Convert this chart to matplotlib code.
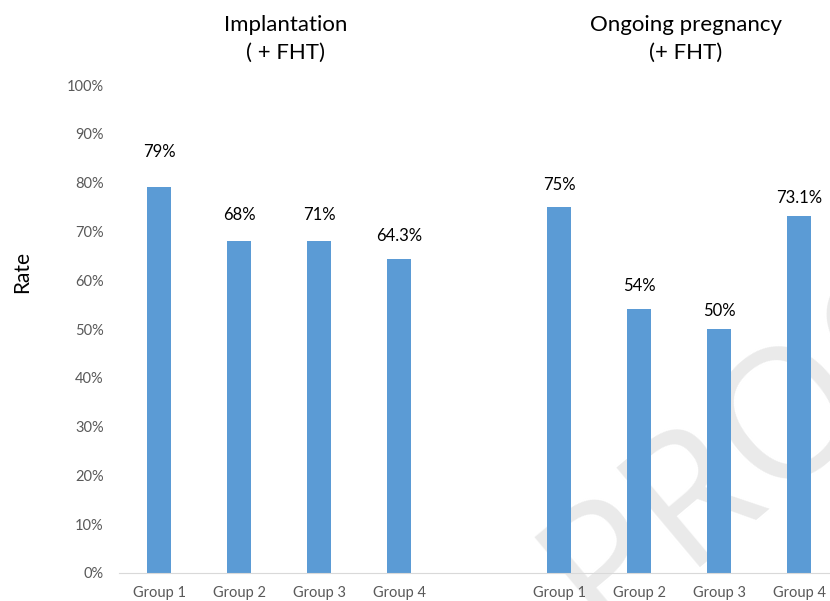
import matplotlib.pyplot as plt
from matplotlib.ticker import PercentFormatter

plt.rcParams['font.family'] = ['Lato', 'DejaVu Sans']

groups = ["Group 1", "Group 2", "Group 3", "Group 4"]
panel_titles = ["Implantation\n( + FHT)", "Ongoing pregnancy\n(+ FHT)"]
# bar heights as drawn (%)
implantation = [79, 68, 68, 64.3]
ongoing = [75, 54, 50, 73.1]
# data labels as printed on the chart
implantation_labels = ["79%", "68%", "71%", "64.3%"]
ongoing_labels = ["75%", "54%", "50%", "73.1%"]

bar_color = "#5B9BD5"
W, H = 830, 601
fig = plt.figure(figsize=(W / 100, H / 100), dpi=100)

# axes spans slots -0.5 .. 8.5, runs a little past the right edge like the original crop
ax = fig.add_axes([119 / W, (H - 573) / H, 720 / W, (573 - 85) / H])

x1 = list(range(4))
x2 = [i + 5 for i in range(4)]
ax.bar(x1, implantation, width=0.31, color=bar_color, zorder=2)
ax.bar(x2, ongoing, width=0.31, color=bar_color, zorder=2)

# label offsets (in %), Excel placed them a bit unevenly
off1 = [7.3, 5.3, 5.3, 4.7]
off2 = [4.5, 4.9, 3.7, 3.7]
for xs, vals, labs, offs in [(x1, implantation, implantation_labels, off1),
                             (x2, ongoing, ongoing_labels, off2)]:
    for x, v, lab, o in zip(xs, vals, labs, offs):
        ax.text(x, v + o, lab, ha="center", va="center", fontsize=12,
                color="black", zorder=3)

ax.set_xlim(-0.5, 8.5)
ax.set_ylim(0, 100)
ax.set_yticks(range(0, 101, 10))
ax.yaxis.set_major_formatter(PercentFormatter(decimals=0))
ax.set_xticks(x1 + x2)
ax.set_xticklabels(groups + groups)
ax.tick_params(axis="both", length=0, labelsize=10.5, colors="#595959")
ax.tick_params(axis="x", pad=9)
ax.tick_params(axis="y", pad=11)
for s in ["top", "right", "left"]:
    ax.spines[s].set_visible(False)
ax.spines["bottom"].set_color("#D9D9D9")
ax.set_facecolor("none")

fig.text(22 / W, (H - 272) / H, "Rate", rotation=90, ha="center", va="center",
         fontsize=15)
fig.text(286 / W, (H - 39) / H, panel_titles[0], ha="center", va="center",
         fontsize=16, linespacing=1.45)
fig.text(686 / W, (H - 39) / H, panel_titles[1], ha="center", va="center",
         fontsize=16, linespacing=1.45)

# faint watermark behind the bars
ax.text(600 / W, -35 / H, "PROOF", transform=fig.transFigure, rotation=40,
        rotation_mode="anchor", ha="left", va="baseline", fontsize=130,
        fontfamily="Open Sans", fontweight="normal", color="#EAEAEA",
        zorder=1, clip_on=False)

fig.savefig("out.png", dpi=100)
